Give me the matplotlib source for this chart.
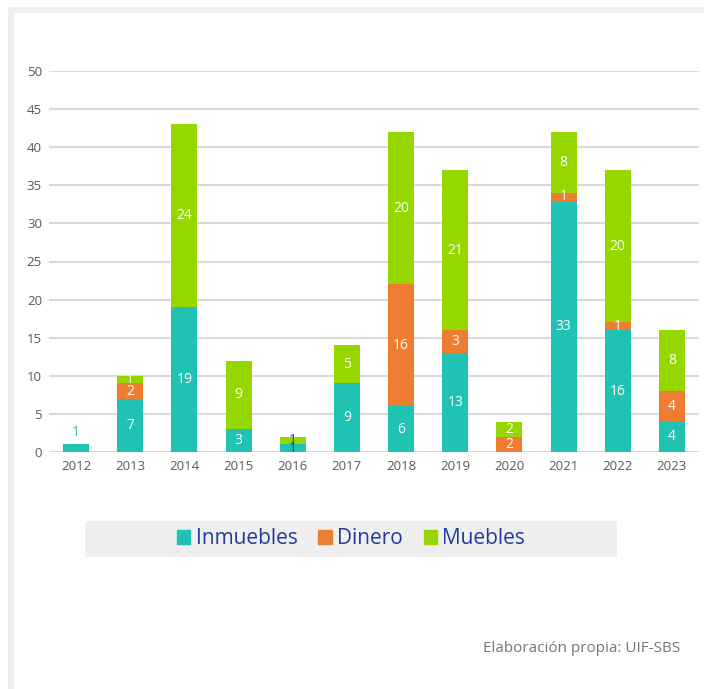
import numpy as np
import matplotlib
matplotlib.use('Agg')
import matplotlib.pyplot as plt
from matplotlib.patches import Rectangle

years = ['2012', '2013', '2014', '2015', '2016', '2017', '2018', '2019',
         '2020', '2021', '2022', '2023']
inmuebles = [1, 7, 19, 3, 1, 9, 6, 13, 0, 33, 16, 4]
dinero = [0, 2, 0, 0, 0, 0, 16, 3, 2, 1, 1, 4]
muebles = [0, 1, 24, 9, 1, 5, 20, 21, 2, 8, 20, 8]
series_names = ['Inmuebles', 'Dinero', 'Muebles']
colors = ['#20C3B3', '#EE7D31', '#97D700']
yticks = [0, 5, 10, 15, 20, 25, 30, 35, 40, 45, 50]

plt.rcParams['font.family'] = ['Open Sans', 'DejaVu Sans']

W, H = 704, 689
fig = plt.figure(figsize=(W / 100, H / 100), dpi=100)

# gray frame
fig.patches.append(Rectangle((8 / W, 0), (W - 8) / W, (H - 7) / H,
                             transform=fig.transFigure, facecolor='#F0F0F0',
                             edgecolor='none', zorder=-3))
fig.patches.append(Rectangle((14 / W, 0), (W - 14) / W, (H - 13) / H,
                             transform=fig.transFigure, facecolor='white',
                             edgecolor='none', zorder=-2))
# legend background
fig.patches.append(Rectangle((85 / W, 1 - 557 / H), (617 - 85) / W, 36 / H,
                             transform=fig.transFigure, facecolor='#EFEFEF',
                             edgecolor='none', zorder=-1))

ax = fig.add_axes([49 / W, 1 - 452 / H, 650 / W, (452 - 71) / H])
ax.set_facecolor('none')

x = np.arange(len(years))
inm = np.array(inmuebles)
din = np.array(dinero)
mue = np.array(muebles)
w = 0.48
ax.bar(x, inm, w, color=colors[0], zorder=3)
ax.bar(x, din, w, bottom=inm, color=colors[1], zorder=3)
ax.bar(x, mue, w, bottom=inm + din, color=colors[2], zorder=3)

# data labels
for i in range(len(years)):
    bottoms = [0, inm[i], inm[i] + din[i]]
    for vals, b in zip([inm, din, mue], bottoms):
        v = vals[i]
        if v == 0:
            continue
        col = 'white'
        y = b + v / 2
        if years[i] == '2016':
            col = '#1F3C9C'
        if years[i] == '2012':
            col = colors[0]
            y = b + v + 1.6
        ax.text(i, y, str(v), ha='center', va='center', color=col,
                fontsize=10, zorder=4)

ax.set_xlim(-0.5, len(years) - 0.5)
ax.set_ylim(0, 50)
ax.set_yticks(yticks)
ax.set_xticks(x)
ax.set_xticklabels(years)
ax.yaxis.grid(True, color='#D9D9D9', lw=1.5, zorder=0)
ax.tick_params(axis='both', length=0, labelsize=9.5, colors='#595959')
ax.tick_params(axis='y', pad=5)
ax.tick_params(axis='x', pad=6)
for s in ax.spines.values():
    s.set_visible(False)

# legend
handles = [Rectangle((0, 0), 1, 1, color=c) for c in colors]
leg = fig.legend(handles, series_names, loc='center',
                 bbox_to_anchor=(351 / W, 1 - 539 / H), ncol=3, frameon=False,
                 fontsize=15, handlelength=0.65, handleheight=0.65,
                 handletextpad=0.25, columnspacing=1.0)
for t in leg.get_texts():
    t.set_color('#1F3C9C')

fig.text(680 / W, 1 - 649 / H, 'Elaboración propia: UIF-SBS', ha='right',
         va='center', color='#777777', fontsize=11)

fig.savefig('out.png', dpi=100)
